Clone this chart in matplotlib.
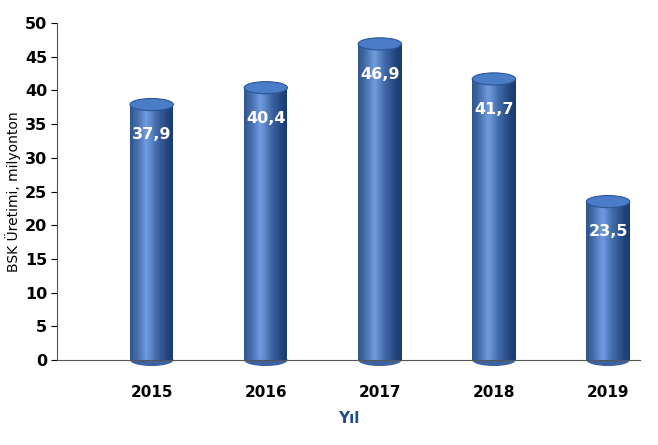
import numpy as np
import matplotlib.pyplot as plt
from matplotlib.patches import Rectangle, Ellipse

years = ["2015", "2016", "2017", "2018", "2019"]
values = [37.9, 40.4, 46.9, 41.7, 23.5]
labels = ["37,9", "40,4", "46,9", "41,7", "23,5"]

fig = plt.figure(figsize=(6.58, 4.45), dpi=100)
ax = fig.add_axes([57 / 658, 1 - 360 / 445, 583 / 658, 337 / 445])

half = 0.19
eh = 1.8
nstrip = 40
dark = np.array([0x1a, 0x3c, 0x74]) / 255
light = np.array([0x6f, 0x9c, 0xe0]) / 255

for i, v in enumerate(values):
    edges = np.linspace(i - half, i + half, nstrip + 1)
    for k in range(nstrip):
        t = (k + 0.5) / nstrip
        # highlight a little left of centre
        s = np.clip(1 - abs(t - 0.38) / 0.62, 0, 1) ** 1.5
        c = dark + (light - dark) * s
        ax.add_patch(Rectangle((edges[k], 0), edges[k + 1] - edges[k], v,
                               color=c, lw=0, zorder=2))
    ax.add_patch(Ellipse((i, 0), 2 * half, eh, color=dark + (light - dark) * 0.4,
                         lw=0, zorder=1.9, clip_on=False))
    ax.add_patch(Ellipse((i, v), 2 * half, eh, facecolor="#4a7cc8",
                         edgecolor="#2c5596", lw=0.8, zorder=3))
    ax.text(i, v - 4.5, labels[i], color="white", fontsize=11.5, fontweight="bold",
            ha="center", va="center", zorder=4)

ax.set_xlim(-0.83, 4.28)
ax.set_ylim(0, 50)
ax.set_yticks(range(0, 51, 5))
ax.set_xticks(range(len(years)))
ax.set_xticklabels(years)
ax.tick_params(axis="x", length=0, pad=18, labelsize=11)
ax.tick_params(axis="y", direction="out", length=4, labelsize=11.5, pad=3)
for lab in ax.get_xticklabels() + ax.get_yticklabels():
    lab.set_fontweight("bold")
ax.spines["top"].set_visible(False)
ax.spines["right"].set_visible(False)
ax.spines["left"].set_color("#555555")
ax.spines["bottom"].set_color("#555555")
ax.set_xlabel("Yıl", color="#1f4e8c", fontweight="bold", fontsize=11, labelpad=8)
ax.set_ylabel("BSK Üretimi, milyonton", fontsize=10, labelpad=3)

fig.savefig("out.png", dpi=100)
